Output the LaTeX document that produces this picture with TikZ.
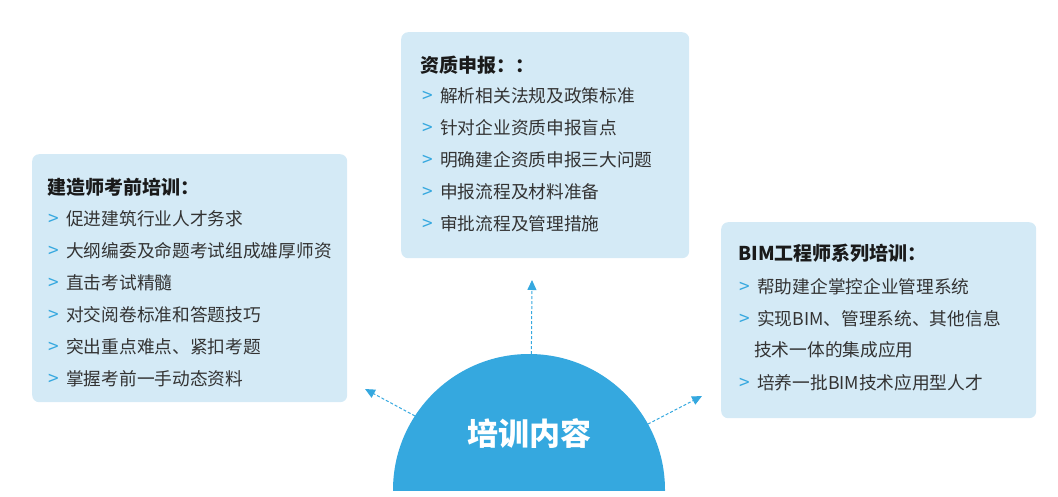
\documentclass[tikz,border=0pt]{standalone}
\usepackage{fontspec}
\setmainfont{Noto Sans CJK SC}
\usetikzlibrary{arrows.meta}
\definecolor{boxbg}{HTML}{D4EAF6}
\definecolor{mainblue}{HTML}{35A8DF}
\definecolor{txt}{HTML}{333333}
\definecolor{ttl}{HTML}{1A1A1A}
\begin{document}
\begin{tikzpicture}[x=1pt,y=-1pt,
  panel/.style={fill=boxbg, rounded corners=7pt, draw=none, inner sep=0, anchor=north west},
  ttlstyle/.style={anchor=west, inner sep=0, text height=0.88em, text depth=0.12em,
    font=\fontsize{19pt}{22pt}\selectfont\bfseries, text=ttl},
  item/.style={anchor=west, inner sep=0, text height=0.88em, text depth=0.12em,
    font=\fontsize{17.7pt}{20pt}\selectfont, text=txt},
  gt/.style={anchor=west, inner sep=0, text height=0.7em, text depth=0.05em,
    font=\fontsize{19pt}{22pt}\selectfont, text=mainblue},
  link/.style={draw=mainblue, line width=1pt, dash pattern=on 3pt off 2pt,
    -{Triangle[length=10pt,width=9pt]}}
]
\useasboundingbox (0,0) rectangle (1058,496);

% panels
\node[panel, minimum width=288pt, minimum height=226pt] (qual) at (401,32) {};
\node[panel, minimum width=315pt, minimum height=248pt] (exam) at (32,154) {};
\node[panel, minimum width=315pt, minimum height=196pt] (bim) at (721,222) {};

% hub semicircle
\begin{scope}
  \clip (0,0) rectangle (1058,490);
  \node[circle, fill=mainblue, minimum size=272pt, inner sep=0, outer sep=0] (hub) at (529,490) {};
\end{scope}
\node[anchor=center, inner sep=0, text=white, font=\fontsize{31pt}{34pt}\selectfont\bfseries] (hubtxt) at (529,434) {培训内容};

% connectors
\coordinate (tipTop) at (532,280);
\coordinate (tipLeft) at (365,389);
\coordinate (tipRight) at (702,396);
\draw[link] (hub.89) -- (tipTop);
\draw[link] (hub.147) -- (tipLeft);
\draw[link] (hub.29) -- (tipRight);

% top panel text
\node[ttlstyle] (qt) at (420,69) {资质申报：：};
\node[gt] (qg1) at (422,99) {>};
\node[item] (q1) at (440,99) {解析相关法规及政策标准};
\node[gt] (qg2) at (422,131) {>};
\node[item] (q2) at (440,131) {针对企业资质申报盲点};
\node[gt] (qg3) at (422,163) {>};
\node[item] (q3) at (440,163) {明确建企资质申报三大问题};
\node[gt] (qg4) at (422,195) {>};
\node[item] (q4) at (440,195) {申报流程及材料准备};
\node[gt] (qg5) at (422,227) {>};
\node[item] (q5) at (440,227) {审批流程及管理措施};

% left panel text
\node[ttlstyle] (et) at (47,191) {建造师考前培训：};
\node[gt] (eg1) at (48,222) {>};
\node[item] (e1) at (66,222) {促进建筑行业人才务求};
\node[gt] (eg2) at (48,254) {>};
\node[item] (e2) at (66,254) {大纲编委及命题考试组成雄厚师资};
\node[gt] (eg3) at (48,286) {>};
\node[item] (e3) at (66,286) {直击考试精髓};
\node[gt] (eg4) at (48,318) {>};
\node[item] (e4) at (66,318) {对交阅卷标准和答题技巧};
\node[gt] (eg5) at (48,350) {>};
\node[item] (e5) at (66,350) {突出重点难点、紧扣考题};
\node[gt] (eg6) at (48,382) {>};
\node[item] (e6) at (66,382) {掌握考前一手动态资料};

% right panel text
\node[ttlstyle] (bt) at (738,257) {BIM工程师系列培训：};
\node[gt] (bg1) at (739,290) {>};
\node[item] (b1) at (757,290) {帮助建企掌控企业管理系统};
\node[gt] (bg2) at (739,322) {>};
\node[item] (b2) at (757,322) {实现BIM、管理系统、其他信息};
\node[item] (b2b) at (754,353) {技术一体的集成应用};
\node[gt] (bg3) at (739,386) {>};
\node[item] (b3) at (757,386) {培养一批BIM技术应用型人才};
\end{tikzpicture}
\end{document}
